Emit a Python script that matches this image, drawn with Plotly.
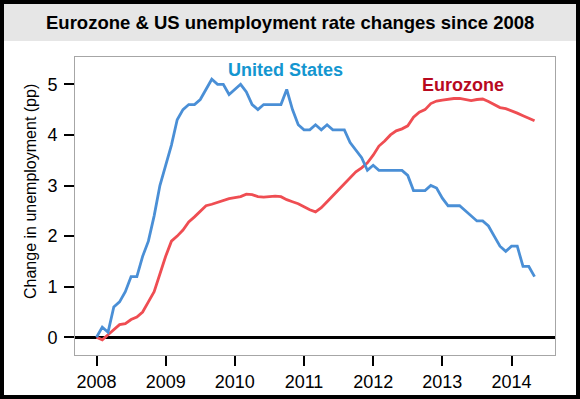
import plotly.graph_objects as go
import pandas as pd

# Monthly data, Jan 2008 - May 2014 (change in unemployment rate since Jan 2008, pp)
months = pd.date_range("2008-01-01", periods=77, freq="MS")

us_change = [
    0.0, 0.2, 0.1, 0.6, 0.7, 0.9, 1.2, 1.2, 1.6, 1.9, 2.4, 3.0,
    3.4, 3.8, 4.3, 4.5, 4.6, 4.6, 4.7, 4.9, 5.1, 5.0, 5.0, 4.8,
    4.9, 5.0, 4.85, 4.6, 4.5, 4.6, 4.6, 4.6, 4.6, 4.9, 4.5, 4.2,
    4.1, 4.1, 4.2, 4.1, 4.2, 4.1, 4.1, 4.1, 3.85, 3.7, 3.55, 3.3,
    3.4, 3.3, 3.3, 3.3, 3.3, 3.3, 3.2, 2.9, 2.9, 2.9, 3.0, 2.95,
    2.75, 2.6, 2.6, 2.6, 2.5, 2.4, 2.3, 2.3, 2.2, 2.0, 1.8, 1.7,
    1.8, 1.8, 1.4, 1.4, 1.2,
]

ez_change = [
    0.0, -0.05, 0.05, 0.15, 0.25, 0.27, 0.35, 0.4, 0.5, 0.7, 0.9, 1.25,
    1.6, 1.9, 2.0, 2.12, 2.28, 2.38, 2.5, 2.6, 2.63, 2.67, 2.7, 2.74,
    2.76, 2.78, 2.83, 2.82, 2.78, 2.77, 2.78, 2.79, 2.78, 2.72, 2.68, 2.64,
    2.58, 2.52, 2.48, 2.56, 2.68, 2.8, 2.9, 3.02, 3.15, 3.27, 3.35, 3.45,
    3.6, 3.78, 3.88, 4.0, 4.08, 4.12, 4.18, 4.35, 4.45, 4.5, 4.62, 4.67,
    4.69, 4.71, 4.72, 4.72, 4.7, 4.68, 4.7, 4.71, 4.66, 4.6, 4.54, 4.52,
    4.48, 4.43, 4.38, 4.33, 4.28,
]

# decimal-year x values derived from the monthly dates
x_years = [d.year + (d.month - 1) / 12 for d in months]

year_ticks = [2008, 2009, 2010, 2011, 2012, 2013, 2014]
year_labels = ["2008", "2009", "2010", "2011", "2012", "2013", "2014"]
y_ticks = [0, 1, 2, 3, 4, 5]
y_labels = ["0", "1", "2", "3", "4", "5"]

FONT = "Arial, Liberation Sans, sans-serif"

fig = go.Figure()
fig.add_trace(go.Scatter(x=x_years, y=ez_change, mode="lines", name="Eurozone",
                         line=dict(color="#ef4d52", width=2.8)))
fig.add_trace(go.Scatter(x=x_years, y=us_change, mode="lines", name="United States",
                         line=dict(color="#4a8fd6", width=2.8)))

# plot area: px 75..555 horizontally, 57..355 vertically
L, R, T, B = 75, 25, 57, 44
W, H = 580, 399
pw, ph = W - L - R, H - T - B

def px(x):
    return (x - L) / pw

def py(y):
    return (H - B - y) / ph

shapes = [
    dict(type="rect", xref="paper", yref="paper", x0=px(4), x1=px(576), y0=py(41), y1=py(4),
         fillcolor="#e6e6e6", line=dict(width=0), layer="below"),
    dict(type="rect", xref="paper", yref="paper", x0=px(2), x1=px(578), y0=py(397), y1=py(2),
         line=dict(color="black", width=4), fillcolor="rgba(0,0,0,0)"),
]

annotations = [
    dict(text="<b>Eurozone & US unemployment rate changes since 2008</b>", xref="paper", yref="paper",
         x=px(290), y=py(22), showarrow=False, font=dict(family=FONT, size=18.5, color="black"),
         xanchor="center", yanchor="middle"),
    dict(text="Change in unemployment (pp)", xref="paper", yref="paper", x=px(30), y=py(192),
         textangle=-90, showarrow=False, font=dict(family=FONT, size=16, color="black"),
         xanchor="center", yanchor="middle"),
    dict(text="<b>United States</b>", x=2010.73, y=5.28, showarrow=False,
         font=dict(family=FONT, size=18, color="#1496d0"), xanchor="center", yanchor="middle"),
    dict(text="<b>Eurozone</b>", x=2013.30, y=4.99, showarrow=False,
         font=dict(family=FONT, size=18, color="#b8091f"), xanchor="center", yanchor="middle"),
]

fig.update_layout(
    template="none",
    width=W, height=H, autosize=False,
    margin=dict(l=L, r=R, t=T, b=B, pad=0, autoexpand=False),
    paper_bgcolor="white", plot_bgcolor="white",
    showlegend=False,
    shapes=shapes, annotations=annotations,
    font=dict(family=FONT, size=18, color="black"),
    xaxis=dict(range=[2007.689, 2014.629], tickvals=year_ticks, ticktext=year_labels,
               ticks="outside", ticklen=10, tickwidth=2, tickcolor="black", automargin=False,
               showgrid=False, zeroline=False, showline=True, linecolor="#a6a6a6",
               linewidth=1, mirror=True, tickfont=dict(size=18), ticklabelstandoff=0),
    yaxis=dict(range=[-0.35, 5.54], tickvals=y_ticks, ticktext=y_labels,
               ticks="outside", ticklen=10, tickwidth=2, tickcolor="black", automargin=False,
               showgrid=False, zeroline=True, zerolinecolor="black", zerolinewidth=3,
               showline=True, linecolor="#a6a6a6", linewidth=1, mirror=True,
               tickfont=dict(size=18), ticklabelstandoff=3),
)

fig.write_html("out.html",
               config={"responsive": False, "displayModeBar": False},
               post_script="document.body.style.margin='0px';")
